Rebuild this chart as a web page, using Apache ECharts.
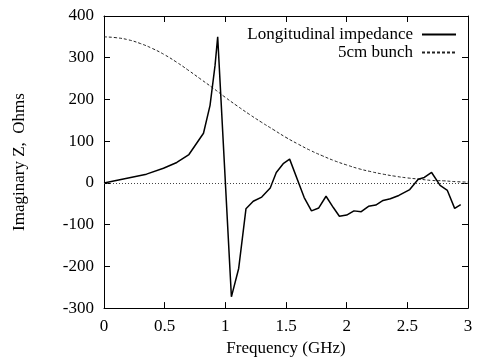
<!DOCTYPE html>
<html>
<head>
<meta charset="utf-8">
<script src="https://cdn.jsdelivr.net/npm/echarts@6/dist/echarts.min.js"></script>
<style>html,body{margin:0;padding:0;background:#fff}#c{width:479px;height:362px}</style>
</head>
<body>
<div id="c"></div>
<script>
// Longitudinal impedance (imaginary part), GHz vs Ohms
var longFreq = [0, 0.35, 0.49, 0.60, 0.70, 0.82, 0.874, 0.915, 0.937, 1.05, 1.11, 1.17, 1.23, 1.30, 1.37, 1.42, 1.48, 1.53, 1.65, 1.71, 1.77, 1.83, 1.89, 1.94, 2.00, 2.06, 2.12, 2.18, 2.24, 2.30, 2.36, 2.43, 2.52, 2.59, 2.64, 2.70, 2.77, 2.83, 2.89, 2.94];
var longImZ = [0, 21, 35, 49, 68, 119, 186, 281, 350, -273, -205, -62, -44, -34, -12, 25, 47, 57, -35, -67, -60, -32, -59, -80, -77, -67, -69, -56, -53, -42, -38, -30, -16, 9, 13, 25, -6, -18, -61, -52];
// 5cm bunch spectrum
var bunchFreq = [0, 0.1, 0.2, 0.3, 0.4, 0.5, 0.6, 0.7, 0.8, 0.9, 1.0, 1.1, 1.2, 1.3, 1.4, 1.5, 1.6, 1.7, 1.8, 1.9, 2.0, 2.1, 2.2, 2.3, 2.4, 2.5, 2.6, 2.7, 2.8, 2.9, 3.0];
var bunchVal = [350, 348, 343, 334, 322, 307, 289, 269, 248, 227, 205, 184, 164, 145, 127, 109, 93, 78, 65, 53, 43, 34, 27, 21, 16, 12, 9, 6, 5, 3, 2];
var seriesNames = ['Longitudinal impedance', '5cm bunch'];
var xTicks = {min: 0, max: 3, interval: 0.5};
var yTicks = {min: -300, max: 400, interval: 100};

function zip(a, b) { return a.map(function (v, i) { return [v, b[i]]; }); }

var font = 'Liberation Serif';
var fs = 17;
var chart = echarts.init(document.getElementById('c'), null, {renderer: 'canvas'});
var axisCommon = {
  axisLine: {show: true, onZero: false, lineStyle: {color: '#000', width: 1}},
  axisTick: {show: true, inside: true, length: 6, lineStyle: {color: '#000', width: 1}},
  splitLine: {show: false}
};
function legendFor(name, top) {
  return {data: [name], right: 22, top: top, align: 'right', orient: 'vertical',
    itemWidth: 34, itemHeight: 10, padding: 0,
    itemStyle: {opacity: 0},
    textStyle: {fontFamily: font, fontSize: fs, color: '#000', padding: [0, 4, 0, 0]}};
}
chart.setOption({
  animation: false,
  backgroundColor: '#fff',
  grid: {left: 104, top: 16, right: 11, bottom: 49, containLabel: false},
  textStyle: {fontFamily: font},
  legend: [legendFor(seriesNames[0], 26), legendFor(seriesNames[1], 44)],
  xAxis: [
    Object.assign({
      type: 'value', position: 'bottom', min: xTicks.min, max: xTicks.max, interval: xTicks.interval,
      name: 'Frequency (GHz)', nameLocation: 'middle', nameGap: 27,
      nameTextStyle: {fontFamily: font, fontSize: fs, color: '#000'},
      axisLabel: {fontFamily: font, fontSize: fs, color: '#000', margin: 10}
    }, axisCommon),
    Object.assign({
      type: 'value', position: 'top', min: xTicks.min, max: xTicks.max, interval: xTicks.interval,
      axisLabel: {show: false}
    }, axisCommon)
  ],
  yAxis: [
    Object.assign({
      type: 'value', position: 'left', min: yTicks.min, max: yTicks.max, interval: yTicks.interval,
      name: 'Imaginary Z,  Ohms', nameLocation: 'middle', nameGap: 76, nameRotate: 90,
      nameTextStyle: {fontFamily: font, fontSize: fs, color: '#000'},
      axisLabel: {fontFamily: font, fontSize: fs, color: '#000', margin: 10}
    }, axisCommon),
    Object.assign({
      type: 'value', position: 'right', min: yTicks.min, max: yTicks.max, interval: yTicks.interval,
      axisLabel: {show: false}
    }, axisCommon)
  ],
  series: [
    {
      name: seriesNames[0], type: 'line', data: zip(longFreq, longImZ),
      symbol: 'none', smooth: false, z: 3,
      lineStyle: {color: '#000', width: 1.5},
      itemStyle: {color: '#000'}
    },
    {
      name: seriesNames[1], type: 'line', data: zip(bunchFreq, bunchVal),
      symbol: 'none', smooth: true, z: 2,
      lineStyle: {color: '#222', width: 1, type: [3, 2]},
      itemStyle: {color: '#222'},
      markLine: {
        silent: true, symbol: 'none', label: {show: false},
        lineStyle: {color: '#444', width: 1, type: [1, 2]},
        data: [{yAxis: 0}]
      }
    }
  ]
});
</script>
</body>
</html>
